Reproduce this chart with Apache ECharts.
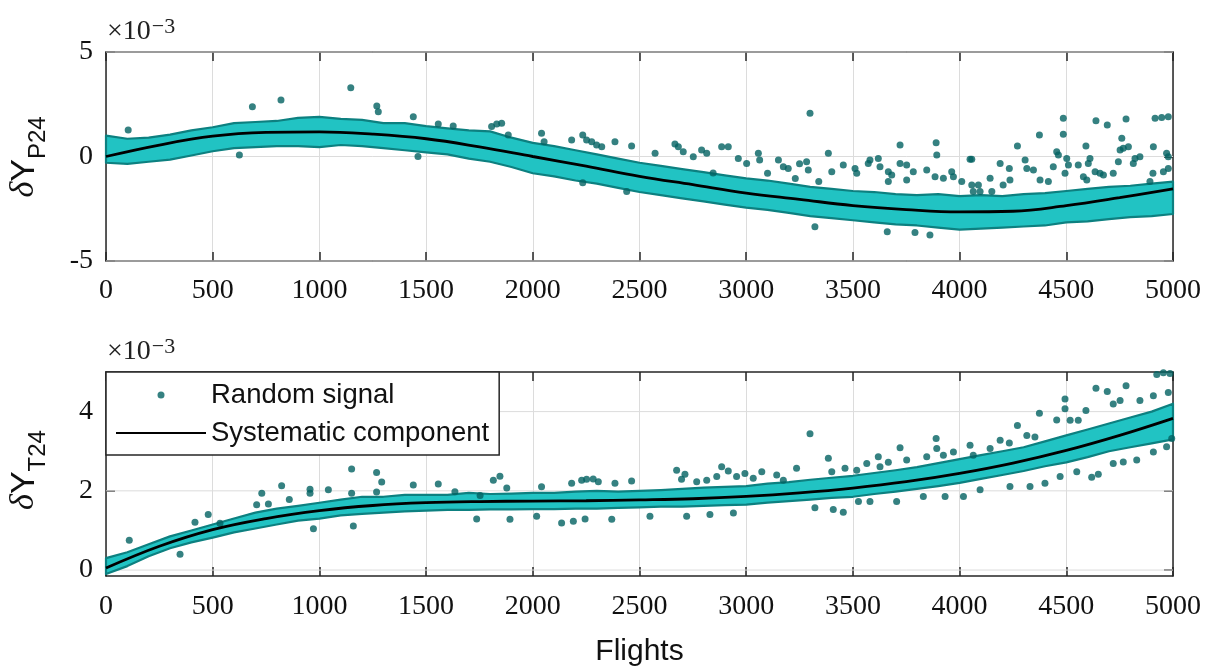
<!DOCTYPE html>
<html>
<head>
<meta charset="utf-8">
<script src="https://cdn.jsdelivr.net/npm/echarts@6/dist/echarts.min.js"></script>
<style>
  html, body { margin: 0; padding: 0; background: #fff; }
  #chart { width: 1206px; height: 668px; }
</style>
</head>
<body>
<div id="chart"></div>
<script>
// ---- data (values in units of 1e-3) ----
const sysFlights = [0, 250, 500, 750, 1000, 1250, 1500, 1750, 2000, 2250, 2500,
  2750, 3000, 3250, 3500, 3750, 4000, 4250, 4500, 4750, 5000];
const sysP24 = [0, 0.55, 0.97, 1.15, 1.18, 1.07, 0.85, 0.46, 0.0, -0.46, -0.95,
  -1.35, -1.75, -2.05, -2.35, -2.54, -2.65, -2.62, -2.35, -1.97, -1.55];
const sysT24 = [0.05, 0.6, 1.02, 1.3, 1.5, 1.63, 1.7, 1.73, 1.74, 1.75, 1.77,
  1.8, 1.86, 1.95, 2.07, 2.23, 2.44, 2.7, 3.02, 3.4, 3.83];

// tick values of the two y axes
const ticksP24 = [-5, 0, 5];
const ticksT24 = [0, 2, 4];

// envelope of the dense cloud of random-signal samples, every 100 flights
const bandFlights = [0, 100, 200, 300, 400, 500, 600, 700, 800, 900,
  1000, 1100, 1200, 1300, 1400, 1500, 1600, 1700, 1800, 1900,
  2000, 2100, 2200, 2300, 2400, 2500, 2600, 2700, 2800, 2900,
  3000, 3100, 3200, 3300, 3400, 3500, 3600, 3700, 3800, 3900,
  4000, 4100, 4200, 4300, 4400, 4500, 4600, 4700, 4800, 4900, 5000];
const bandP24Upper = [1.0, 0.85, 0.9, 1.05, 1.25, 1.4, 1.6, 1.65, 1.7, 1.85,
  1.9, 1.8, 1.75, 1.6, 1.6, 1.45, 1.35, 1.25, 1.2, 0.9,
  0.65, 0.5, 0.3, 0.1, -0.1, -0.3, -0.45, -0.6, -0.75, -0.9,
  -1.05, -1.15, -1.3, -1.45, -1.55, -1.65, -1.7, -1.8, -1.85, -1.8,
  -1.9, -1.85, -1.9, -1.8, -1.75, -1.65, -1.55, -1.45, -1.4, -1.3, -1.2];
const bandP24Lower = [-0.3, -0.35, -0.25, -0.15, 0.05, 0.25, 0.4, 0.45, 0.5, 0.5,
  0.45, 0.55, 0.5, 0.4, 0.3, 0.2, 0.1, -0.1, -0.25, -0.5,
  -0.8, -0.95, -1.15, -1.3, -1.5, -1.7, -1.85, -2.0, -2.15, -2.3,
  -2.45, -2.55, -2.7, -2.85, -2.95, -3.05, -3.15, -3.25, -3.3, -3.4,
  -3.5, -3.45, -3.4, -3.35, -3.3, -3.15, -3.1, -3.0, -2.9, -2.85, -2.75];
const bandT24Upper = [0.3, 0.45, 0.65, 0.85, 1.0, 1.15, 1.3, 1.45, 1.55, 1.62,
  1.7, 1.78, 1.85, 1.85, 1.9, 1.9, 1.9, 1.95, 1.92, 1.93,
  1.95, 1.95, 1.98, 2.0, 1.98, 2.0, 2.02, 2.05, 2.08, 2.1,
  2.12, 2.18, 2.22, 2.28, 2.33, 2.38, 2.45, 2.52, 2.6, 2.7,
  2.8, 2.9, 3.0, 3.1, 3.25, 3.4, 3.55, 3.7, 3.85, 4.0, 4.2];
const bandT24Lower = [-0.1, 0.1, 0.35, 0.55, 0.7, 0.82, 0.95, 1.05, 1.15, 1.25,
  1.3, 1.38, 1.42, 1.45, 1.48, 1.5, 1.52, 1.52, 1.53, 1.53,
  1.54, 1.54, 1.55, 1.55, 1.57, 1.58, 1.6, 1.6, 1.62, 1.64,
  1.65, 1.7, 1.74, 1.78, 1.82, 1.85, 1.92, 1.98, 2.05, 2.12,
  2.2, 2.3, 2.4, 2.5, 2.62, 2.72, 2.85, 3.0, 3.1, 3.2, 3.3];

// individual samples lying off the dense cloud
const scatterP24 = [
  [104, 1.27], [625, 0.07], [686, 2.38], [820, 2.70], [1147, 3.29], [1269, 2.42], [1276, 2.14],
  [1440, 1.9], [1557, 1.55], [1627, 1.46], [1807, 1.43], [1831, 1.55], [1854, 1.59], [1885, 1.03],
  [2041, 1.11], [2053, 0.71], [2182, 0.79], [2234, 1.03], [2252, 0.79], [2276, 0.71], [2299, 0.55],
  [2323, 0.47], [2385, 0.71], [2463, 0.5], [2573, 0.15], [2666, 0.6], [2682, 0.47], [2705, 0.23],
  [2752, -0.01], [2791, 0.31], [2815, 0.15], [2885, 0.47], [2916, 0.47], [2963, -0.09], [3002, -0.33],
  [3057, 0.15], [3063, -0.17], [3151, -0.17], [3174, -0.49], [3197, -0.57], [2845, -0.79], [1462, 0.0],
  [2234, -1.25], [2440, -1.68], [3100, -0.8], [3230, -1.05], [3340, -1.2], [3250, -0.35],
  [3299, 2.07], [3385, 0.15], [3283, -0.25], [3291, -0.65], [3401, -0.73], [3455, -0.41], [3510, -0.57],
  [3518, -0.8], [3572, -0.33], [3580, -0.17], [3619, -0.09], [3627, -0.49], [3666, -0.73], [3682, -0.89],
  [3666, -1.2], [3721, 0.55], [3721, -0.33], [3752, -0.41], [3783, -0.73], [3752, -1.12], [3846, -0.65],
  [3890, 0.66], [3893, 0.07], [3885, -0.97], [3924, -1.04], [3963, -0.73], [3971, -0.97], [4010, -1.2],
  [4049, -0.13], [4057, -0.13], [4057, -1.36], [4088, -1.36], [4064, -1.68], [4096, -1.68], [4143, -1.04],
  [4151, -1.68], [4190, -0.33], [4204, -1.36], [4233, -0.57], [4236, -1.12], [4271, 0.5], [4307, -0.17],
  [4315, -0.57], [4346, -0.65], [4374, 1.03], [4377, -1.12], [4416, -1.2], [4439, -0.49], [4455, 0.23],
  [4463, 0.07], [4486, 1.83], [4486, 1.06], [4494, -0.8], [4502, -0.09], [4510, -0.41], [4556, -0.41],
  [4580, -0.97], [4596, -1.12], [4592, 0.5], [4603, -0.33], [4611, -0.09], [4639, 1.71], [4635, -0.73],
  [4658, -0.8], [4674, -0.89], [4692, 1.51], [4720, -0.8], [4744, -0.25], [4760, 0.87], [4767, 0.39],
  [4752, 0.31], [4791, 0.47], [4780, 1.79], [4814, -0.33], [4822, -0.09], [4845, -0.01], [4908, 0.47],
  [4906, -0.8], [4892, -1.2], [4916, 1.83], [4947, 1.87], [4978, 1.9], [4970, 0.15], [4978, -0.01],
  [4978, -0.57], [4955, -0.73],
  [3322, -3.36], [3661, -3.6], [3791, -3.64], [3861, -3.76]
];
const scatterT24 = [
  [109, 0.75], [347, 0.4], [417, 1.21], [479, 1.4], [534, 1.18], [706, 1.65], [730, 1.94], [761, 1.67],
  [823, 2.13], [859, 1.78], [956, 2.04], [956, 1.94], [972, 1.04], [1042, 2.03], [1151, 2.55], [1151, 1.94],
  [1159, 1.11], [1268, 2.46], [1292, 2.22], [1268, 1.97],
  [1440, 2.15], [1557, 2.17], [1635, 1.98], [1753, 1.88], [1815, 2.27], [1846, 2.37], [1878, 2.07],
  [2041, 2.1], [2182, 2.19], [2229, 2.27], [2252, 2.29], [2283, 2.3], [2307, 2.23], [2385, 2.19],
  [2463, 2.25], [2674, 2.52], [2713, 2.42], [2697, 2.29], [2768, 2.23], [2815, 2.27], [2885, 2.61],
  [2916, 2.5], [2862, 2.36], [2955, 2.36], [2994, 2.44], [3033, 2.32], [3073, 2.48], [3143, 2.4],
  [3174, 2.27], [3236, 2.57],
  [1737, 1.29], [1893, 1.28], [2018, 1.36], [2135, 1.19], [2190, 1.23], [2245, 1.29], [2370, 1.28],
  [2549, 1.36], [2721, 1.36], [2830, 1.4], [2940, 1.44],
  [3299, 3.44], [3385, 2.82], [3401, 2.48], [3463, 2.57], [3518, 2.52], [3565, 2.69], [3619, 2.86],
  [3627, 2.61], [3666, 2.72], [3721, 3.09], [3752, 2.78], [3846, 2.86], [3890, 3.32], [3893, 3.07],
  [3924, 2.9], [3971, 2.98], [4049, 3.15], [4064, 2.9], [4143, 3.07], [4190, 3.28], [4233, 3.21],
  [4271, 3.65], [4315, 3.4], [4353, 3.36], [4374, 3.96], [4455, 3.79], [4494, 4.07], [4494, 4.32],
  [4518, 3.78], [4556, 3.78], [4592, 4.03], [4639, 4.59], [4692, 4.51], [4780, 4.65], [4720, 4.19],
  [4752, 4.28], [4845, 4.28], [4908, 4.4], [4924, 4.94], [4955, 4.98], [4986, 4.96], [4978, 4.48],
  [3322, 1.57], [3408, 1.53], [3455, 1.46], [3526, 1.73], [3580, 1.73], [3705, 1.73], [3830, 1.86],
  [3932, 1.86], [4018, 1.86], [4096, 2.03], [4236, 2.11], [4330, 2.11], [4400, 2.19], [4471, 2.36],
  [4549, 2.48], [4619, 2.34], [4650, 2.42], [4720, 2.69], [4767, 2.73], [4830, 2.78], [4908, 2.98],
  [4970, 3.11], [4994, 3.32]
];

// ---- styles ----
const TEAL_DOT = '#026262';
const TEAL_FILL = '#21c3c3';
const TEAL_EDGE = '#0d8080';
const AXIS_COLOR = '#262626';
const GRID_COLOR = '#dcdcdc';
const SERIF = "'Liberation Serif', 'DejaVu Serif', serif";
const SANS = "'Liberation Sans', Arial, sans-serif";

function bandSeries(upper, lower, axisIdx) {
  return {
    type: 'custom',
    xAxisIndex: axisIdx, yAxisIndex: axisIdx,
    silent: true, z: 2,
    data: [[0, 0]],
    renderItem: function (params, api) {
      const pts = [];
      for (let i = 0; i < bandFlights.length; i++) pts.push(api.coord([bandFlights[i], upper[i]]));
      for (let i = bandFlights.length - 1; i >= 0; i--) pts.push(api.coord([bandFlights[i], lower[i]]));
      return {
        type: 'polygon',
        shape: { points: pts },
        style: { fill: TEAL_FILL, stroke: TEAL_EDGE, lineWidth: 2.2, lineJoin: 'round' }
      };
    }
  };
}

// horizontal grid lines at the y tick values
function gridLineSeries(values, axisIdx) {
  return {
    type: 'custom',
    xAxisIndex: axisIdx, yAxisIndex: axisIdx,
    silent: true, z: 1,
    data: values.map(v => [0, v]),
    renderItem: function (params, api) {
      const y = api.value(1);
      const p0 = api.coord([0, y]);
      const p1 = api.coord([5000, y]);
      return {
        type: 'line',
        shape: { x1: p0[0], y1: p0[1], x2: p1[0], y2: p1[1] },
        style: { stroke: GRID_COLOR, lineWidth: 1 }
      };
    }
  };
}

function scatterSeries(data, axisIdx) {
  return {
    name: 'Random signal', type: 'scatter',
    xAxisIndex: axisIdx, yAxisIndex: axisIdx, z: 3,
    symbol: 'circle', symbolSize: 7,
    itemStyle: { color: TEAL_DOT },
    data: data
  };
}

function sysSeries(values, axisIdx) {
  return {
    name: 'Systematic component', type: 'line',
    xAxisIndex: axisIdx, yAxisIndex: axisIdx, z: 4,
    symbol: 'none', smooth: 0.4,
    lineStyle: { color: '#000', width: 2.8 },
    itemStyle: { color: '#000' },
    data: sysFlights.map((f, i) => [f, values[i]])
  };
}

const axisLine = { show: true, onZero: false, lineStyle: { color: AXIS_COLOR, width: 1.5 } };
const gridLine = { show: true, lineStyle: { color: GRID_COLOR, width: 1 } };
function innerTick(custom) {
  const t = { show: true, inside: true, length: 9, lineStyle: { color: AXIS_COLOR, width: 1.5 } };
  if (custom) t.customValues = custom;
  return t;
}
const plainNumber = v => String(v);

function xAxes(gridIdx, margin, extra) {
  return [
    Object.assign({
      type: 'value', gridIndex: gridIdx, position: 'bottom',
      min: 0, max: 5000, interval: 500,
      axisLine: axisLine, axisTick: innerTick(), splitLine: gridLine,
      axisLabel: { fontFamily: SERIF, fontSize: 28, color: '#111', margin: margin, formatter: plainNumber }
    }, extra || {}),
    {
      type: 'value', gridIndex: gridIdx, position: 'top',
      min: 0, max: 5000, interval: 500,
      axisLine: axisLine, axisTick: innerTick(), splitLine: { show: false },
      axisLabel: { show: false }
    }
  ];
}

function yAxes(gridIdx, min, max, ticks) {
  return [
    {
      type: 'value', gridIndex: gridIdx, position: 'left',
      min: min, max: max,
      axisLine: axisLine, axisTick: innerTick(ticks), splitLine: { show: false },
      axisLabel: { fontFamily: SERIF, fontSize: 28, color: '#111', margin: 13,
        customValues: ticks, formatter: plainNumber }
    },
    {
      type: 'value', gridIndex: gridIdx, position: 'right',
      min: min, max: max,
      axisLine: axisLine, axisTick: innerTick(ticks), splitLine: { show: false },
      axisLabel: { show: false }
    }
  ];
}

function yTitle(sub, cy) {
  return {
    type: 'text', x: 29, y: cy, rotation: Math.PI / 2, z: 10,
    style: {
      text: '{d|δ}{y|Y}{s|' + sub + '}',
      align: 'center', verticalAlign: 'middle', fill: '#111',
      rich: {
        d: { fontFamily: SERIF, fontStyle: 'italic', fontSize: 34, verticalAlign: 'bottom', padding: [0, 0, 9, 0], fill: '#111' },
        y: { fontFamily: SANS, fontSize: 34, verticalAlign: 'bottom', padding: [0, 0, 9, 0], fill: '#111' },
        s: { fontFamily: SANS, fontSize: 24, verticalAlign: 'bottom', fill: '#111' }
      }
    }
  };
}

function exponentLabel(top) {
  return {
    type: 'text', x: 107, y: top, z: 10,
    style: {
      text: '{a|×10}{b|−3}',
      align: 'left', verticalAlign: 'top', fill: '#222',
      rich: {
        a: { fontFamily: SERIF, fontSize: 28, lineHeight: 30, verticalAlign: 'bottom', fill: '#222' },
        b: { fontFamily: SERIF, fontSize: 22, lineHeight: 20, verticalAlign: 'top', fill: '#222', padding: [0, 0, 0, 1] }
      }
    }
  };
}

const chart = echarts.init(document.getElementById('chart'), null, { renderer: 'canvas' });
chart.setOption({
  animation: false,
  backgroundColor: '#fff',
  grid: [
    { left: 106, right: 33, top: 52, height: 209 },
    { left: 106, right: 33, top: 372, height: 205 }
  ],
  xAxis: [].concat(
    xAxes(0, 16),
    xAxes(1, 17, {
      name: 'Flights', nameLocation: 'middle', nameGap: 61,
      nameTextStyle: { fontFamily: SANS, fontSize: 30, color: '#111' }
    })
  ),
  yAxis: [].concat(
    yAxes(0, -5, 5, ticksP24),
    yAxes(1, -0.15, 5, ticksT24)
  ),
  legend: {
    data: [
      'Random signal',
      { name: 'Systematic component', itemStyle: { color: 'transparent', opacity: 0, borderWidth: 0 } }
    ],
    orient: 'vertical', left: 106, top: 372,
    itemWidth: 90, itemHeight: 7, itemGap: 10, itemTextGap: 8,
    padding: [9, 10, 8, 9],
    backgroundColor: '#fff', borderColor: AXIS_COLOR, borderWidth: 1.5, borderRadius: 0,
    selectedMode: false, z: 20,
    textStyle: { fontFamily: SANS, fontSize: 27.5, color: '#111', lineHeight: 28 }
  },
  graphic: [
    yTitle('P24', 157),
    yTitle('T24', 470),
    exponentLabel(16),
    exponentLabel(336)
  ],
  series: [
    gridLineSeries(ticksP24, 0),
    bandSeries(bandP24Upper, bandP24Lower, 0),
    scatterSeries(scatterP24, 0),
    sysSeries(sysP24, 0),
    gridLineSeries(ticksT24, 2),
    bandSeries(bandT24Upper, bandT24Lower, 2),
    scatterSeries(scatterT24, 2),
    sysSeries(sysT24, 2)
  ]
});
</script>
</body>
</html>
